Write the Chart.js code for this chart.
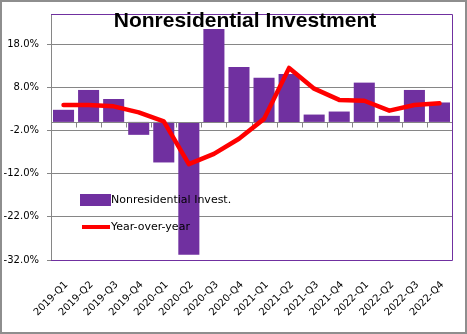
<!DOCTYPE html>
<html>
<head>
    <title>Nonresidential Investment</title>
    <style>
        body { margin: 0; background: #fff; }
        canvas { display: block; }
    </style>
</head>
<body>
    <canvas id="chart" width="467" height="334"></canvas>

    <script src="https://cdn.jsdelivr.net/npm/chart.js"></script>
    <script>
        // data
        var quarters = ['2019-Q1', '2019-Q2', '2019-Q3', '2019-Q4', '2020-Q1', '2020-Q2', '2020-Q3', '2020-Q4',
                        '2021-Q1', '2021-Q2', '2021-Q3', '2021-Q4', '2022-Q1', '2022-Q2', '2022-Q3', '2022-Q4'];
        var investment = [2.8, 7.4, 5.3, -3.0, -9.4, -30.8, 21.5, 12.7, 10.2, 11.1, 1.7, 2.4, 9.1, 1.4, 7.4, 4.5];
        var yearOverYear = [3.9, 3.9, 3.6, 2.2, 0.1, -9.8, -7.4, -3.9, 0.7, 12.5, 7.7, 5.1, 4.9, 2.6, 3.9, 4.3];
        var yTicks = [-32, -22, -12, -2, 8, 18];
        var yMin = -32;
        var yMax = 25;

        var titleText = 'Nonresidential Investment';
        var barLabel = 'Nonresidential Invest.';
        var lineLabel = 'Year-over-year';

        var purple = '#7030a0';
        var red = '#ff0000';
        var gridGrey = '#868686';

        Chart.defaults.font.family = "'DejaVu Sans', sans-serif";
        Chart.defaults.font.size = 10;
        Chart.defaults.color = '#000';

        // frame, zero axis, title and legend drawn onto the canvas
        var decorations = {
            id: 'decorations',
            beforeDraw: function(chart) {
                var ctx = chart.ctx;
                ctx.save();
                ctx.fillStyle = '#fff';
                ctx.fillRect(0, 0, chart.width, chart.height);
                ctx.strokeStyle = '#8e8e8e';
                ctx.lineWidth = 2;
                ctx.strokeRect(1, 1, chart.width - 2, chart.height - 2);
                ctx.restore();
            },
            beforeDatasetDraw: function(chart, args) {
                if (args.index !== 1) return;
                var ctx = chart.ctx;
                var a = chart.chartArea;
                var y0 = Math.round(chart.scales.y.getPixelForValue(0)) + 0.5;
                var n = quarters.length;
                ctx.save();
                ctx.strokeStyle = gridGrey;
                ctx.lineWidth = 1;
                ctx.beginPath();
                ctx.moveTo(a.left, y0);
                ctx.lineTo(a.right, y0);
                for (var i = 0; i <= n; i++) {
                    var px = Math.round(a.left + (a.right - a.left) * i / n) + 0.5;
                    ctx.moveTo(px, y0);
                    ctx.lineTo(px, y0 + 5);
                }
                ctx.stroke();
                ctx.restore();
            },
            afterDraw: function(chart) {
                var ctx = chart.ctx;
                var a = chart.chartArea;
                ctx.save();

                // plot border top, right, bottom
                ctx.strokeStyle = purple;
                ctx.lineWidth = 1;
                ctx.beginPath();
                ctx.moveTo(a.left, a.top + 0.5);
                ctx.lineTo(a.right + 0.5, a.top + 0.5);
                ctx.lineTo(a.right + 0.5, a.bottom + 0.5);
                ctx.lineTo(a.left, a.bottom + 0.5);
                ctx.stroke();

                // title
                ctx.fillStyle = '#000';
                ctx.font = "bold 21px 'Liberation Sans', Arial, sans-serif";
                ctx.textAlign = 'center';
                ctx.textBaseline = 'alphabetic';
                ctx.fillText(titleText, 245, 27);

                // legend
                ctx.fillStyle = purple;
                ctx.fillRect(80, 194, 31, 12);
                ctx.strokeStyle = red;
                ctx.lineWidth = 4;
                ctx.beginPath();
                ctx.moveTo(82, 227);
                ctx.lineTo(110, 227);
                ctx.stroke();
                ctx.fillStyle = '#000';
                ctx.font = "11px 'DejaVu Sans', sans-serif";
                ctx.textAlign = 'left';
                ctx.textBaseline = 'middle';
                ctx.fillText(barLabel, 111, 200);
                ctx.fillText(lineLabel, 111, 227);

                ctx.restore();
            }
        };

        var ctx = document.getElementById('chart').getContext('2d');

        new Chart(ctx, {
            data: {
                labels: quarters,
                datasets: [{
                    type: 'bar',
                    label: barLabel,
                    data: investment,
                    backgroundColor: purple,
                    barPercentage: 0.84,
                    categoryPercentage: 1.0,
                    order: 1
                }, {
                    type: 'line',
                    label: lineLabel,
                    data: yearOverYear,
                    borderColor: red,
                    borderWidth: 4.5,
                    borderJoinStyle: 'round',
                    borderCapStyle: 'round',
                    pointRadius: 0,
                    tension: 0,
                    fill: false,
                    order: 0
                }]
            },
            options: {
                responsive: false,
                animation: false,
                layout: {
                    padding: { top: 10, right: 15, left: 0, bottom: 0 }
                },
                plugins: {
                    legend: { display: false },
                    title: { display: false },
                    tooltip: { enabled: false }
                },
                scales: {
                    x: {
                        grid: { display: false },
                        border: { display: false },
                        ticks: {
                            maxRotation: 45,
                            minRotation: 45,
                            padding: 11,
                            labelOffset: 3,
                            font: { size: 10 }
                        },
                        afterFit: function(scale) { scale.height = 74; }
                    },
                    y: {
                        min: yMin,
                        max: yMax,
                        grid: { color: gridGrey, tickLength: 4 },
                        border: { color: gridGrey },
                        ticks: {
                            padding: 8,
                            callback: function(v) { return v.toFixed(1) + '%'; }
                        },
                        afterBuildTicks: function(scale) {
                            scale.ticks = yTicks.map(function(v) { return { value: v }; });
                        },
                        afterFit: function(scale) { scale.width = 51; }
                    }
                }
            },
            plugins: [decorations]
        });
    </script>
</body>
</html>
